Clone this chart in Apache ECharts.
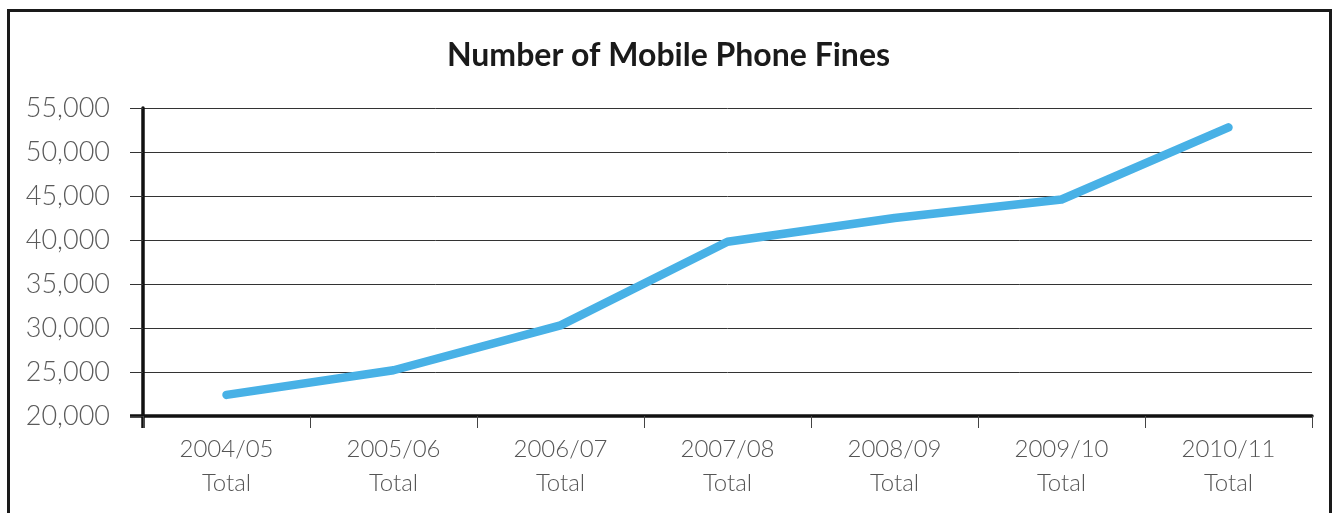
<!DOCTYPE html>
<html>
<head>
<meta charset="utf-8">
<script src="https://cdn.jsdelivr.net/npm/echarts@6/dist/echarts.min.js"></script>
<style>
html,body{margin:0;padding:0;background:#fff;}
#main{width:1337px;height:513px;}
</style>
</head>
<body>
<div id="main"></div>
<script>
var titleText = 'Number of Mobile Phone Fines';
var categories = ['2004/05\nTotal', '2005/06\nTotal', '2006/07\nTotal', '2007/08\nTotal', '2008/09\nTotal', '2009/10\nTotal', '2010/11\nTotal'];
var fines = [22400, 25200, 30300, 39800, 42500, 44600, 52800];
var yMin = 20000, yMax = 55000, yStep = 5000;

var chart = echarts.init(document.getElementById('main'));
var option = {
  animation: false,
  backgroundColor: '#fff',
  title: {
    text: titleText,
    left: 'center',
    top: 35,
    textStyle: { fontFamily: 'Lato', fontWeight: 'bold', fontSize: 32, color: '#1a1a1a' }
  },
  grid: { left: 143, right: 25, top: 108, bottom: 97 },
  xAxis: {
    type: 'category',
    data: categories,
    boundaryGap: true,
    axisLine: { show: true, lineStyle: { color: '#111', width: 3.5 } },
    axisTick: { show: true, length: 12, alignWithLabel: false, lineStyle: { color: '#444', width: 1 } },
    axisLabel: { color: '#555', fontFamily: 'Lato', fontWeight: 300, fontSize: 24, lineHeight: 34, margin: 16 },
    splitLine: { show: false }
  },
  yAxis: {
    type: 'value',
    min: yMin, max: yMax, interval: yStep,
    axisLine: { show: true, lineStyle: { color: '#111', width: 3.5 } },
    axisTick: { show: true, length: 13, lineStyle: { color: '#333', width: 1 } },
    axisLabel: {
      color: '#5a5a5a', fontFamily: 'Lato', fontWeight: 300, fontSize: 27, margin: 33,
      formatter: function (v) { return v.toLocaleString('en-US'); }
    },
    splitLine: { show: true, lineStyle: { color: '#333', width: 1 } }
  },
  series: [{
    type: 'line',
    data: fines,
    symbol: 'none',
    lineStyle: { color: '#48b1e6', width: 8.5, cap: 'round', join: 'round' }
  }]
};
chart.setOption(option);

// frame, plus the y axis line carried below the x axis and the x axis line left of the y axis
var gridRect = chart.getModel().getComponent('grid', 0).coordinateSystem.getRect();
var yBase = chart.convertToPixel({ gridIndex: 0 }, [0, yMin])[1];
chart.setOption({
  graphic: [
    {
      type: 'rect',
      shape: { x: 8.5, y: 10.5, width: 1322, height: 620 },
      style: { fill: 'none', stroke: '#1a1a1a', lineWidth: 3 },
      silent: true
    },
    {
      type: 'line',
      shape: { x1: gridRect.x, y1: yBase, x2: gridRect.x, y2: yBase + 12 },
      style: { stroke: '#111', lineWidth: 3.5 },
      silent: true
    },
    {
      type: 'line',
      shape: { x1: gridRect.x - 13, y1: yBase, x2: gridRect.x, y2: yBase },
      style: { stroke: '#111', lineWidth: 3.5 },
      silent: true
    }
  ]
});
</script>
</body>
</html>
